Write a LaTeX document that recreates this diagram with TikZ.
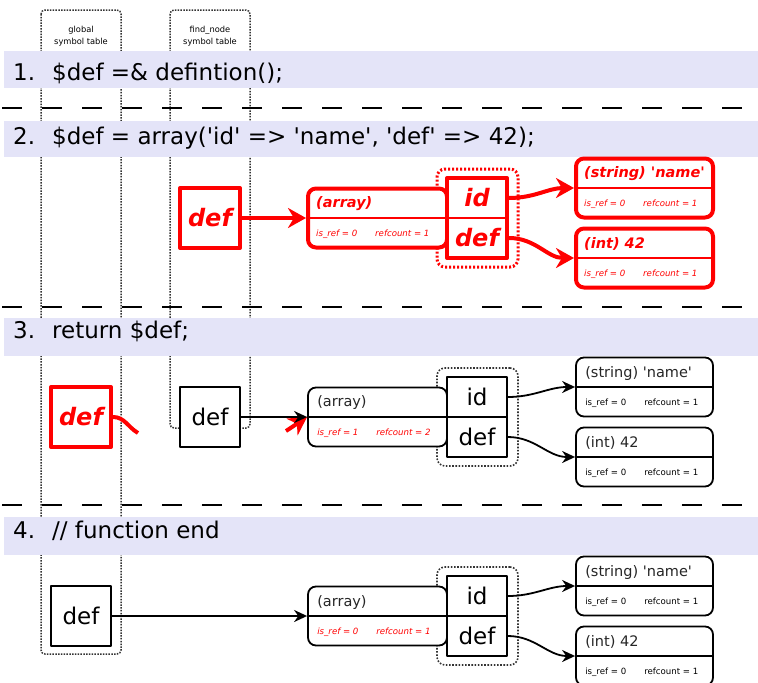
\documentclass[tikz,border=0pt]{standalone}
\usepackage{fontspec}
\setmainfont{DejaVu Sans}
\usetikzlibrary{arrows.meta}
\definecolor{bandblue}{RGB}{228,228,248}
\newcommand\sq{\textquotesingle}
\begin{document}
\begin{tikzpicture}[x=1pt, y=-1pt, line join=round,
  column/.style={draw=black!80, line width=1.5pt, dash pattern=on 1.5pt off 1.3pt, rounded corners=4pt},
  band/.style={fill=bandblue},
  sep/.style={line width=2pt, dash pattern=on 20pt off 20pt},
  code/.style={anchor=base west, inner sep=0pt, font=\fontsize{23}{27}\selectfont},
  head/.style={align=center, inner sep=0pt, font=\fontsize{8.3}{12}\selectfont},
  varbox/.style={fill=white, minimum width=60pt, minimum height=60pt, inner sep=0pt},
  keybox/.style={fill=white, minimum width=60pt, minimum height=80pt, inner sep=0pt},
  valbox/.style={fill=white, rounded corners=8pt, minimum height=59pt, inner sep=0pt},
  keyring/.style={rounded corners=8pt, minimum width=81pt, minimum height=98pt, inner sep=0pt},
  refnote/.style={anchor=west, inner sep=0pt, text=red, font=\fontsize{8.6}{10}\selectfont\itshape},
  hot/.style={
    boxline/.style={draw=red, line width=4pt},
    rule/.style={draw=red, line width=2pt},
    word/.style={text=red, font=\fontsize{24}{28}\selectfont\bfseries\itshape},
    title/.style={anchor=west, inner sep=0pt, text=red, font=\fontsize{14.5}{17}\selectfont\bfseries\itshape},
    note/.style={anchor=west, inner sep=0pt, text=red, font=\fontsize{8.6}{10}\selectfont\itshape},
    link/.style={draw=red, line width=4pt, -{Stealth[length=18pt,width=20pt]}},
    ring/.style={draw=red, line width=3pt, dash pattern=on 2pt off 2pt}},
  cold/.style={
    boxline/.style={draw=black, line width=1.8pt},
    rule/.style={draw=black, line width=1.6pt},
    word/.style={text=black, font=\fontsize{23}{27}\selectfont},
    title/.style={anchor=west, inner sep=0pt, text=black!85, font=\fontsize{14.5}{17}\selectfont},
    note/.style={anchor=west, inner sep=0pt, text=black, font=\fontsize{8.6}{10}\selectfont},
    link/.style={draw=black, line width=1.8pt, -{Stealth[length=13pt,width=12pt]}},
    ring/.style={draw=black!80, line width=1.6pt, dash pattern=on 1.6pt off 1.6pt}}]
  \useasboundingbox (0,0) rectangle (758,683);
  \draw[column] (41,10) rectangle (121,654);
  \draw[column] (170,10) rectangle (250,428);
  \node[head] (ghead) at (81,36) {global\\symbol table};
  \node[head] (fhead) at (210,36) {find\_node\\symbol table};
  \fill[band] (4,51) rectangle (758,88);
  \fill[band] (4,121) rectangle (758,157);
  \fill[band] (4,318) rectangle (758,356);
  \fill[band] (4,517) rectangle (758,555);
  \foreach \y in {108,307,505} \draw[sep] (2,\y) -- (758,\y);
  \node[code] (n1) at (13,80) {1.};
  \node[code] (c1) at (52,80) {\$def =\& defintion();};
  \node[code] (n2) at (13,144) {2.};
  \node[code] (c2) at (52,144) {\$def = array(\sq id\sq{} => \sq name\sq, \sq def\sq{} => 42);};
  \node[code] (n3) at (13,338) {3.};
  \node[code] (c3) at (52,338) {return \$def;};
  \node[code] (n4) at (13,538) {4.};
  \node[code] (c4) at (52,538) {// function end};
  \foreach \y/\s/\h/\isref/\refc in {218/2/hot/0/1, 417/3/cold/1/2, 616/4/cold/0/1}{
    \begin{scope}[\h]
      \node[keyring, ring] (ring\s) at (477.5,\y) {};
      \node[valbox, boxline, minimum width=139pt] (arr\s) at (377.5,\y) {};
      \draw[rule] (arr\s.west) -- (arr\s.east);
      \node[title] (arrt\s) at ([shift={(10,-14)}]arr\s.west) {(array)};
      \node[refnote] (arrn\s) at ([shift={(10,16)}]arr\s.west) {\makebox[59pt][l]{is\_ref = \isref}refcount = \refc};
      \node[keybox, boxline] (key\s) at (477,\y) {};
      \draw[rule] (key\s.west) -- (key\s.east);
      \node[word] (kid\s) at (477,\y-20) {id};
      \node[word] (kdef\s) at (477,\y+20) {def};
      \node[valbox, boxline, minimum width=137pt] (str\s) at (644.5,\y-30) {};
      \draw[rule] (str\s.west) -- (str\s.east);
      \node[title] (strt\s) at ([shift={(10,-14)}]str\s.west) {(string) \sq name\sq};
      \node[note] (strn\s) at ([shift={(10,16)}]str\s.west) {\makebox[59pt][l]{is\_ref = 0}refcount = 1};
      \node[valbox, boxline, minimum width=137pt] (int\s) at (644.5,\y+40) {};
      \draw[rule] (int\s.west) -- (int\s.east);
      \node[title] (intt\s) at ([shift={(10,-14)}]int\s.west) {(int) 42};
      \node[note] (intn\s) at ([shift={(10,16)}]int\s.west) {\makebox[59pt][l]{is\_ref = 0}refcount = 1};
      \draw[link] (key\s.east |- kid\s) to[out=0,in=180] (str\s.west);
      \draw[link] (key\s.east |- kdef\s) to[out=0,in=180] (int\s.west);
    \end{scope}
  }
  \node[hot, varbox, boxline, word] (fdef2) at (210,218) {def};
  \draw[hot, link] (fdef2.east) -- (arr2.west);
  \node[hot, varbox, boxline, word] (gdef3) at (81,417) {def};
  \node[cold, varbox, boxline, word] (fdef3) at (210,417) {def};
  \coordinate (gcut) at (138,433);
  \coordinate (acut) at (286,431);
  \draw[hot, boxline] (gdef3.east) to[out=0,in=150] (gcut);
  \draw[hot, link] (acut) -- (arr3.west);
  \draw[cold, link] (fdef3.east) -- (arr3.west);
  \node[cold, varbox, boxline, word] (gdef4) at (81,616) {def};
  \draw[cold, link] (gdef4.east) -- (arr4.west);
\end{tikzpicture}
\end{document}
